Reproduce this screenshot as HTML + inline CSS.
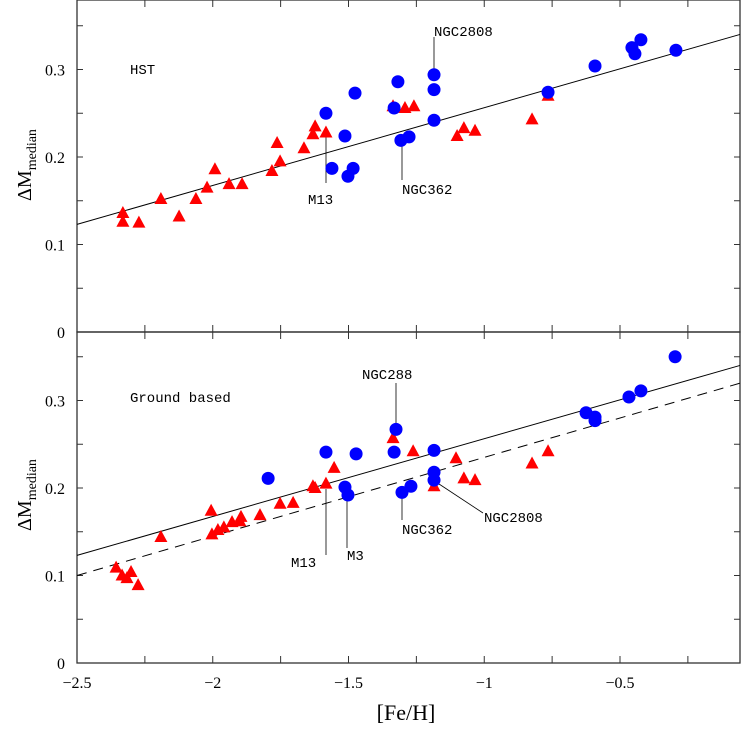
<!DOCTYPE html>
<html><head><meta charset="utf-8"><style>
body{margin:0;background:#fff}
svg text{font-family:"Liberation Serif",serif;fill:#000}
.mono{font-family:"Liberation Mono",monospace;font-size:14px}
</style></head><body>
<svg id="c" width="742" height="726" xmlns="http://www.w3.org/2000/svg"></svg>
<script>
const hstTriX=[-2.331,-2.331,-2.272,-2.191,-2.124,-2.062,-2.021,-1.992,-1.94,-1.892,-1.782,-1.763,-1.752,-1.664,-1.631,-1.623,-1.583,-1.336,-1.292,-1.259,-1.1,-1.075,-1.034,-0.824,-0.765];
const hstTriY=[0.136,0.126,0.125,0.152,0.132,0.152,0.165,0.186,0.169,0.169,0.184,0.216,0.195,0.21,0.226,0.235,0.228,0.258,0.256,0.258,0.224,0.233,0.23,0.243,0.27];
const hstCirX=[-1.583,-1.561,-1.513,-1.502,-1.483,-1.476,-1.332,-1.318,-1.307,-1.277,-1.185,-1.185,-1.185,-0.765,-0.592,-0.456,-0.445,-0.423,-0.294];
const hstCirY=[0.25,0.187,0.224,0.178,0.187,0.273,0.256,0.286,0.219,0.223,0.294,0.277,0.242,0.274,0.304,0.325,0.318,0.334,0.322];
const gbTriX=[-1.336,-1.262,-1.104,-1.553,-1.631,-1.623,-1.583,-1.075,-1.034,-1.185,-0.824,-0.765,-1.704,-1.752,-2.356,-2.334,-2.316,-2.301,-2.275,-2.191,-2.006,-2.003,-1.981,-1.959,-1.929,-1.9,-1.896,-1.826];
const gbTriY=[0.257,0.242,0.234,0.223,0.202,0.2,0.205,0.211,0.209,0.202,0.228,0.242,0.183,0.182,0.109,0.1,0.097,0.104,0.089,0.144,0.174,0.147,0.152,0.155,0.161,0.162,0.167,0.169];
const gbCirX=[-1.325,-1.583,-1.472,-1.332,-1.185,-1.513,-1.502,-1.303,-1.27,-1.185,-1.185,-1.796,-0.625,-0.592,-0.592,-0.467,-0.423,-0.297];
const gbCirY=[0.267,0.241,0.239,0.241,0.243,0.201,0.192,0.195,0.202,0.218,0.209,0.211,0.286,0.281,0.277,0.304,0.311,0.35];
const fitSolid=[0.123,0.0889];
const fitDashed=[0.1,0.09];
const xTicks=[-2.5,-2,-1.5,-1,-0.5];
const xTickLabels=["−2.5","−2","−1.5","−1","−0.5"];
const yTicks=[0,0.1,0.2,0.3];
const yTickLabels=["0","0.1","0.2","0.3"];

const svg=document.getElementById('c');const NS="http://www.w3.org/2000/svg";
const L=77,R=740,XU=271.5;
const sx=x=>L+(x+2.5)*XU;
const panels=[{base:332,top:0},{base:663,top:332}];
const sy=(p,y)=>panels[p].base-y*875;
const xMax=(R-L)/XU-2.5;
function mk(t,a,name,parent){const e=document.createElementNS(NS,t);for(const k in a)e.setAttribute(k,a[k]);


(parent||svg).appendChild(e);return e;}
function txt(x,y,s,name,extra){const e=mk('text',Object.assign({x:x,y:y},extra||{}),name);e.textContent=s;return e;}

for(let p=0;p<2;p++){
 const P=panels[p];
 mk('rect',{x:L,y:P.top,width:R-L,height:P.base-P.top,fill:'none',stroke:'#333','stroke-width':1.3},'panel-frame');
 for(let v=-2.5;v<=xMax;v+=0.25){const len=7;const X=sx(v);
  mk('line',{x1:X,x2:X,y1:P.base,y2:P.base-len,stroke:'#333'},'x-tick');
  mk('line',{x1:X,x2:X,y1:P.top,y2:P.top+len,stroke:'#333'},'x-tick');}
 for(let v=0;v<=0.38;v+=0.05){const len=6;const Y=sy(p,v);
  if(Y<P.top+1)continue;
  mk('line',{x1:L,x2:L+len,y1:Y,y2:Y,stroke:'#333'},'y-tick');
  mk('line',{x1:R,x2:R-len,y1:Y,y2:Y,stroke:'#333'},'y-tick');}
 yTicks.forEach((v,i)=>txt(L-12,sy(p,v)+6,yTickLabels[i],'y-tick-label',{'text-anchor':'end','font-size':16}));
}
xTicks.forEach((v,i)=>txt(sx(v),688,xTickLabels[i],'x-tick-label',{'text-anchor':'middle','font-size':16}));

function fit(p,c,dash,name){mk('line',{x1:sx(-2.5),y1:sy(p,c[0]),x2:R,y2:sy(p,c[0]+c[1]*(xMax+2.5)),stroke:'#000','stroke-width':1,'stroke-dasharray':dash||'none'},name);}
fit(0,fitSolid,null,'fit-line-hst');fit(1,fitSolid,null,'fit-line-ground');fit(1,fitDashed,'10,7','fit-line-dashed');

function ann(x1,y1,x2,y2){mk('line',{x1:x1,y1:y1,x2:x2,y2:y2,stroke:'#000','stroke-width':0.8},'label-leader');}
ann(434,37,434,75);ann(326,130,326,183);ann(402,145,402,180);
ann(396,383,396,429);ann(326,489,326,555);ann(347,495,347,548);ann(402,494,402,520);ann(436,482,483,513);

function tri(p,X,Y,name){X.forEach((x,i)=>{const cx=sx(x),cy=sy(p,Y[i]);
 mk('polygon',{points:`${cx-6.5},${cy+5} ${cx+6.5},${cy+5} ${cx},${cy-7}`,fill:'#f00'},name);});}
function cir(p,X,Y,name){X.forEach((x,i)=>mk('circle',{cx:sx(x),cy:sy(p,Y[i]),r:6.5,fill:'#00f'},name));}
tri(0,hstTriX,hstTriY,'hst-triangle');cir(0,hstCirX,hstCirY,'hst-circle');
tri(1,gbTriX,gbTriY,'ground-triangle');cir(1,gbCirX,gbCirY,'ground-circle');

const m={'class':'mono'};
txt(434,36,'NGC2808','label-ngc2808',m);txt(308,204,'M13','label-m13',m);txt(402,194,'NGC362','label-ngc362',m);
txt(362,379,'NGC288','label-ngc288',m);txt(291,567,'M13','label-m13-ground',m);txt(347,560,'M3','label-m3',m);
txt(402,534,'NGC362','label-ngc362-ground',m);txt(484,522,'NGC2808','label-ngc2808-ground',m);
txt(130,74,'HST','panel-title-hst',{'class':'mono','font-size':16});
txt(130,402,'Ground based','panel-title-ground',{'class':'mono','font-size':16});
const yl=txt(0,0,'','y-axis-title-top',{transform:'translate(31,165) rotate(-90)','text-anchor':'middle','font-size':20});
yl.innerHTML='ΔM<tspan font-size="14" dy="5">median</tspan>';
const yl2=txt(0,0,'','y-axis-title-bottom',{transform:'translate(31,495) rotate(-90)','text-anchor':'middle','font-size':20});
yl2.innerHTML='ΔM<tspan font-size="14" dy="5">median</tspan>';
txt(406,720,'[Fe/H]','x-axis-title',{'text-anchor':'middle','font-size':22});
</script>
</body></html>
